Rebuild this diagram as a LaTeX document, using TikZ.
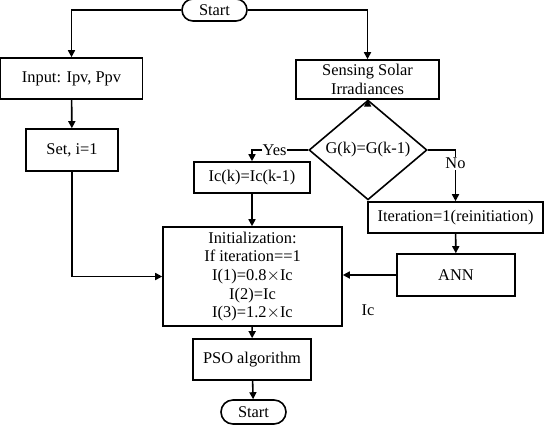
\documentclass[tikz,border=0pt]{standalone}
\usepackage{fontspec}
\setmainfont{Liberation Serif}
\usetikzlibrary{arrows.meta,shapes.geometric,shapes.misc}
\begin{document}
\begin{tikzpicture}[x=1pt,y=-1pt,line width=1.6pt,
  font=\fontsize{16.4}{18.6}\selectfont,
  box/.style={draw,align=center,inner sep=0pt},
  term/.style={draw,rounded rectangle,inner sep=0pt,minimum width=65pt,minimum height=22pt},
  cond/.style={draw,diamond,inner sep=0pt,minimum width=118pt,minimum height=54pt},
  arr/.style={-{Triangle[length=7pt,width=7pt]}}]
\useasboundingbox (0,0) rectangle (545,429);

\node[term] (start) at (214.5,10) {Start};
\node[box,minimum width=142pt,minimum height=41pt] (input) at (71.5,78.5) {Input: Ipv, Ppv};
\node[box,minimum width=143pt,minimum height=39pt] (sense) at (367.5,79.5) {Sensing Solar\\Irradiances};
\node[box,minimum width=92pt,minimum height=42pt] (seti) at (72,150) {Set, i=1};
\node[cond] (same) at (368,150) {G(k)=G(k-1)};
\node[box,minimum width=116pt,minimum height=31pt] (keep) at (252,177.5) {Ic(k)=Ic(k-1)};
\node[box,minimum width=175pt,minimum height=31pt] (reinit) at (455.5,217.5) {Iteration=1(reinitiation)};
\node[box,minimum width=118pt,minimum height=42pt] (ann) at (456,275) {ANN};
\node[box,minimum width=179pt,minimum height=99pt] (init) at (252.5,276.5) {Initialization:\\If iteration==1\\I(1)=0.8$\times$Ic\\I(2)=Ic\\I(3)=1.2$\times$Ic};
\node[box,minimum width=118pt,minimum height=41pt] (pso) at (252,359.5) {PSO algorithm};
\node[term,minimum height=24pt] (stop) at (253.5,412) {Start};
\node (iclabel) at (368,310) {Ic};

\draw[arr] (start.west) -| (input.north);
\draw[arr] (start.east) -| (sense.north);
\draw[arr] (input) -- (seti);
\draw[arr] (sense) -- (same);
\draw[arr] (seti.south) |- (init.west);
\draw[arr] (same.west) -| node[pos=0.3,fill=white,inner sep=1pt] {Yes} (keep.north);
\draw[arr] (same.east) -| node[pos=0.63,fill=white,inner sep=1pt] {No} (reinit.north);
\draw[arr] (keep) -- (keep |- init.north);
\draw[arr] (reinit) -- (ann);
\draw[arr] (ann.west) -- (init.east |- ann.west);
\draw[arr] (init) -- (pso);
\draw[arr] (pso) -- (stop);
\end{tikzpicture}
\end{document}
